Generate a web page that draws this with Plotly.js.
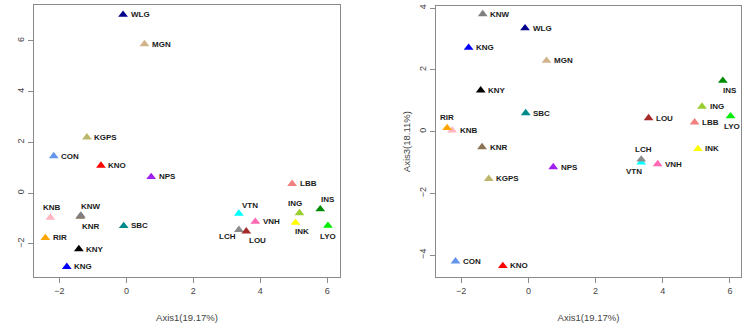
<!DOCTYPE html>
<html>
<head>
<meta charset="utf-8">
<script src="https://cdn.plot.ly/plotly-3.0.1.min.js"></script>
<style>html,body{margin:0;padding:0;background:#fff;}#chart{width:748px;height:327px;}</style>
</head>
<body>
<div id="chart"></div>
<script>
// Populations
const names = ["WLG","MGN","KGPS","CON","KNO","NPS","LBB","INS","ING","INK","LYO","VTN","VNH","LCH","LOU","KNB","KNR","KNW","SBC","RIR","KNY","KNG"];
const colors = ["#00008B","#D2B48C","#BDB76B","#6495ED","#FF0000","#A020F0","#F08080","#008B00","#9ACD32","#FFFF00","#00EE00","#00FFFF","#FF69B4","#8B8B8B","#A52A2A","#FFB6C1","#8B7355","#7F7F7F","#008B8B","#FFA500","#000000","#0000FF"];
// Axis1 scores
const axis1 = [-0.10, 0.54, -1.18, -2.17, -0.76, 0.74, 4.95, 5.79, 5.17, 5.05, 6.02, 3.36, 3.85, 3.36, 3.58, -2.27, -1.38, -1.36, -0.08, -2.42, -1.42, -1.78];
// Axis2 scores (left panel)
const axis2 = [7.03, 5.87, 2.20, 1.46, 1.09, 0.64, 0.37, -0.63, -0.78, -1.16, -1.28, -0.80, -1.12, -1.44, -1.50, -0.96, -0.92, -0.88, -1.29, -1.76, -2.20, -2.90];
// Axis3 scores (right panel)
const axis3 = [3.35, 2.30, -1.53, -4.20, -4.35, -1.15, 0.30, 1.65, 0.81, -0.56, 0.50, -1.00, -1.05, -0.90, 0.44, 0.04, -0.50, 3.81, 0.60, 0.12, 1.34, 2.72];

// label placement (pixel offsets of label centre from marker; default: to the right)
const placeLeft = {INS:[8,-10], ING:[-4.5,-10], INK:[7,9], LYO:[0,11], VTN:[11,-8], LCH:[-11.5,7], LOU:[11,9.5], KNB:[1.5,-10], KNW:[10,-9.5], KNR:[11,9.5]};
const placeRight = {RIR:[0,-10], INS:[7.5,9.5], LYO:[1.5,10], LCH:[2,-10], VTN:[-7.5,9.5]};

const FAM = "Liberation Sans, Arial, sans-serif";
const labelFont = {family:FAM, size:8, color:"#1a1a1a"};

function labels(xs, ys, place, xr, yr) {
  return names.map((n, i) => {
    const p = place[n];
    const a = {x:xs[i], y:ys[i], xref:xr, yref:yr, text:"<b>"+n+"</b>", showarrow:false, font:labelFont, yanchor:"middle"};
    if (p) { a.xanchor = "center"; a.xshift = p[0]; a.yshift = -p[1]; }
    else { a.xanchor = "left"; a.xshift = 5.5; a.yshift = 0; }
    return a;
  });
}

const traces = [
  {type:"scatter", mode:"markers", x:axis1, y:axis2,
   marker:{symbol:"triangle-up", size:8.5, color:colors, line:{width:0}}, xaxis:"x", yaxis:"y", cliponaxis:false, hoverinfo:"none"},
  {type:"scatter", mode:"markers", x:axis1, y:axis3,
   marker:{symbol:"triangle-up", size:8.5, color:colors, line:{width:0}}, xaxis:"x2", yaxis:"y2", cliponaxis:false, hoverinfo:"none"}
];

const W = 748, H = 327;
const axBase = {
  showgrid:false, zeroline:false, showline:true, mirror:true, linecolor:"#8a8a8a", linewidth:1,
  ticks:"outside", ticklen:5, tickcolor:"#8a8a8a", tickfont:{family:FAM, size:9, color:"#444"},
  dtick:2, tick0:0
};
const tFont = {family:FAM, size:9.5, color:"#444"};

const layout = {
  width:W, height:H, margin:{l:0,r:0,t:0,b:0}, showlegend:false,
  paper_bgcolor:"#fff", plot_bgcolor:"#fff",
  xaxis: Object.assign({}, axBase, {domain:[34/W, 340/W], range:[-2.76, 6.38], anchor:"y",
    title:{text:"Axis1(19.17%)", font:tFont, standoff:19}}),
  yaxis: Object.assign({}, axBase, {domain:[1-277/H, 1-5/H], range:[-3.30, 7.41], anchor:"x", tickangle:-90}),
  xaxis2: Object.assign({}, axBase, {domain:[435.7/W, 741.3/W], range:[-2.76, 6.34], anchor:"y2",
    title:{text:"Axis1(19.17%)", font:tFont, standoff:19}}),
  yaxis2: Object.assign({}, axBase, {domain:[1-277.3/H, 1-6/H], range:[-4.72, 4.07], anchor:"x2", tickangle:-90,
    title:{text:"Axis3(18.11%)", font:tFont, standoff:5}}),
  annotations: labels(axis1, axis2, placeLeft, "x", "y").concat(labels(axis1, axis3, placeRight, "x2", "y2"))
};

Plotly.newPlot("chart", traces, layout, {displayModeBar:false, staticPlot:true});
</script>
</body>
</html>
